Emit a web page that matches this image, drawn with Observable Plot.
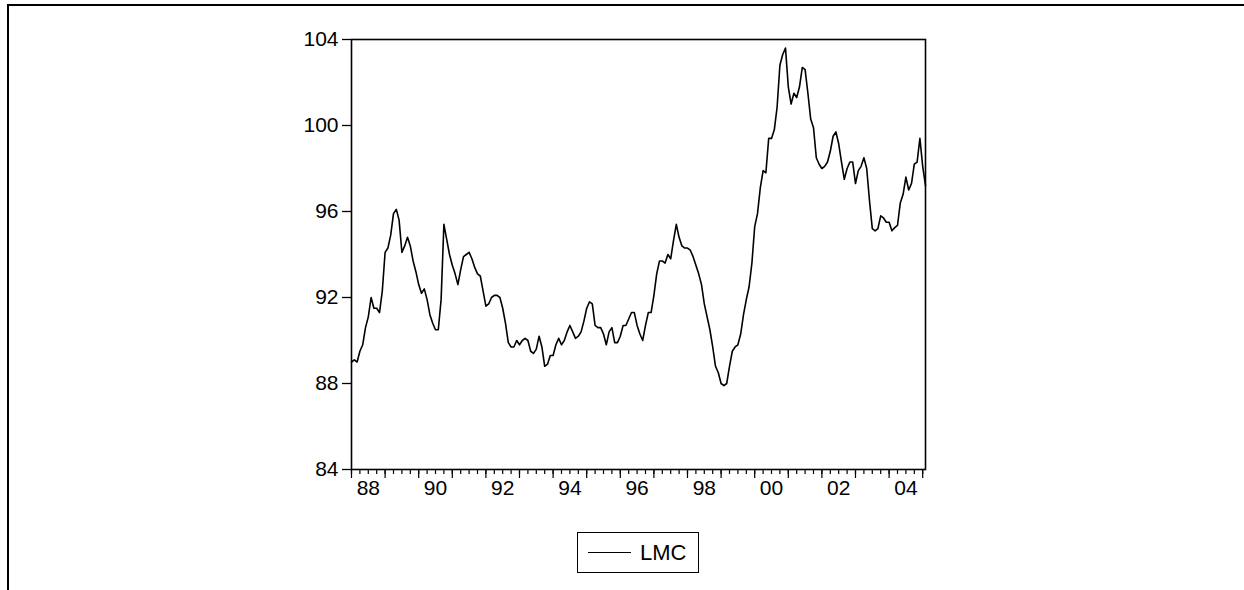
<!DOCTYPE html>
<html>
<head>
<meta charset="utf-8">
<script src="https://cdn.jsdelivr.net/npm/d3@7"></script>
<script src="https://cdn.jsdelivr.net/npm/@observablehq/plot@0.6"></script>
<style>
html, body { margin: 0; padding: 0; background: #fff; overflow: hidden; }
#wrap { position: relative; width: 1244px; height: 590px; font-family: "Liberation Sans", Arial, sans-serif; }
#border { position: absolute; left: 7px; top: 4px; width: 1260px; height: 620px; border-top: 2px solid #000; border-left: 2px solid #000; }
#chart { position: absolute; left: 0; top: 0; }
#legend { position: absolute; left: 577px; top: 532px; width: 122px; height: 41px; border: 1px solid #000; box-sizing: border-box; background: #fff; display: flex; align-items: center; }
#legend .swatch { margin-left: 10px; width: 43px; height: 0; border-top: 1.5px solid #000; }
#legend .lbl { margin-left: 9px; font-size: 22px; color: #000; }
</style>
</head>
<body>
<div id="wrap">
  <div id="border"></div>
  <div id="chart"></div>
  <div id="legend"><div class="swatch"></div><div class="lbl" id="legendLabel"></div></div>
</div>
<script>
// Series name and monthly values (1988:01 onward)
const seriesName = "LMC";
const startYear = 1988;
const lmc = [
  89.0, 89.1, 89.0, 89.5, 89.8, 90.6, 91.1, 92.0, 91.5, 91.5, 91.3, 92.3,
  94.1, 94.3, 94.9, 95.9, 96.1, 95.6, 94.1, 94.4, 94.8, 94.4, 93.7, 93.2,
  92.6, 92.2, 92.4, 91.9, 91.2, 90.8, 90.5, 90.5, 91.9, 95.4, 94.7, 94.0,
  93.5, 93.1, 92.6, 93.3, 93.9, 94.0, 94.1, 93.8, 93.4, 93.1, 93.0, 92.3,
  91.6, 91.7, 92.0, 92.1, 92.1, 92.0, 91.5, 90.8, 89.9, 89.7, 89.7, 90.0,
  89.8, 90.0, 90.1, 90.0, 89.5, 89.4, 89.6, 90.2, 89.7, 88.8, 88.9, 89.3,
  89.3, 89.8, 90.1, 89.8, 90.0, 90.4, 90.7, 90.4, 90.1, 90.2, 90.4, 90.9,
  91.5, 91.8, 91.7, 90.7, 90.6, 90.6, 90.3, 89.8, 90.4, 90.6, 89.9, 89.9,
  90.2, 90.7, 90.7, 91.0, 91.3, 91.3, 90.7, 90.3, 90.0, 90.7, 91.3, 91.3,
  92.1, 93.1, 93.7, 93.7, 93.6, 94.0, 93.8, 94.65, 95.4, 94.8, 94.4, 94.3,
  94.3, 94.2, 93.9, 93.5, 93.1, 92.6, 91.7, 91.1, 90.5, 89.7, 88.8, 88.5,
  88.0, 87.9, 88.0, 88.8, 89.5, 89.7, 89.8, 90.3, 91.2, 91.9, 92.5, 93.6,
  95.3, 95.9, 97.1, 97.9, 97.8, 99.4, 99.4, 99.8, 100.85, 102.8, 103.3, 103.6,
  101.8, 101.0, 101.5, 101.3, 101.8, 102.7, 102.6, 101.5, 100.3, 99.9, 98.5, 98.2,
  98.0, 98.1, 98.3, 98.8, 99.5, 99.7, 99.15, 98.3, 97.5, 98.0, 98.3, 98.3,
  97.3, 97.9, 98.1, 98.5, 98.0, 96.5, 95.2, 95.1, 95.2, 95.8, 95.7, 95.5,
  95.5, 95.1, 95.25, 95.35, 96.4, 96.8, 97.6, 97.0, 97.3, 98.2, 98.3, 99.4,
  98.1, 97.2
];
const yTicks = [84, 88, 92, 96, 100, 104];
const yearLabels = ["88", "90", "92", "94", "96", "98", "00", "02", "04"];

const data = lmc.map((v, i) => ({i, v}));
const quarterTicks = d3.range(0, lmc.length, 3);
const yearTicks = d3.range(0, lmc.length, 12);
const labelPos = yearLabels.map((_, k) => 6 + 24 * k);
const labelMap = new Map(labelPos.map((p, k) => [p, yearLabels[k]]));

document.getElementById("legendLabel").textContent = seriesName;

const chart = Plot.plot({
  width: 1244,
  height: 590,
  marginLeft: 351,
  marginRight: 319,
  marginTop: 39,
  marginBottom: 121,
  style: {fontFamily: '"Liberation Sans", Arial, sans-serif', fontSize: "21px", color: "#000", background: "transparent", overflow: "visible"},
  x: {domain: [0, lmc.length - 1], label: null},
  y: {domain: [84, 104], label: null},
  marks: [
    Plot.axisY(yTicks, {tickSize: 9, tickPadding: 4, strokeWidth: 1.3, label: null}),
    Plot.axisX(quarterTicks, {tickSize: 5, strokeWidth: 1.2, tickFormat: () => "", label: null}),
    Plot.axisX(yearTicks, {tickSize: 9, strokeWidth: 1.2, tickFormat: () => "", label: null}),
    Plot.axisX(labelPos, {tickSize: 0, tickPadding: 11, tickFormat: d => labelMap.get(d), label: null}),
    Plot.frame({stroke: "#000", strokeWidth: 1.6}),
    Plot.line(data, {x: "i", y: "v", stroke: "#000", strokeWidth: 1.6})
  ]
});
document.getElementById("chart").appendChild(chart);
</script>
</body>
</html>
